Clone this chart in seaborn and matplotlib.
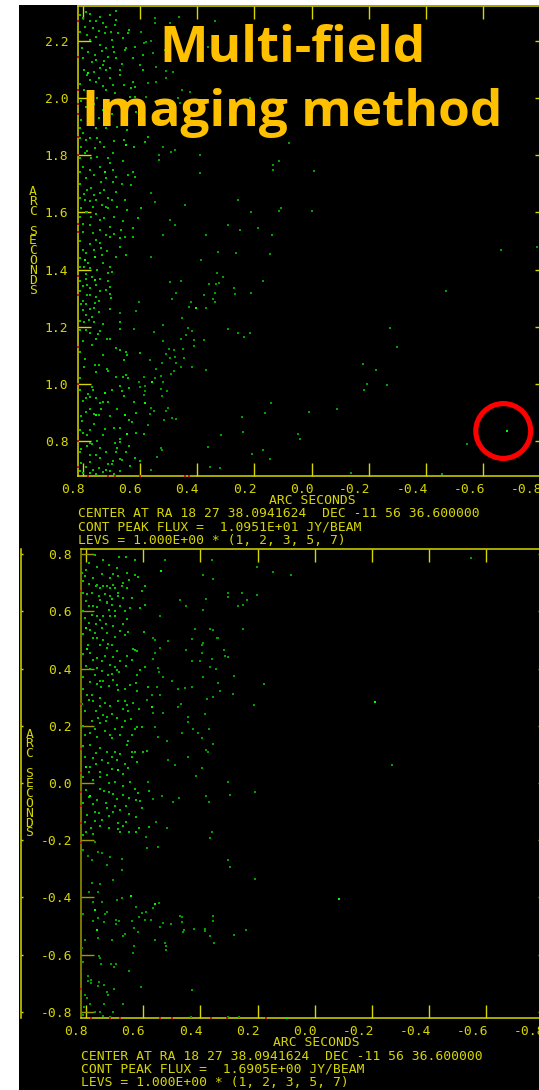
import matplotlib
matplotlib.use('Agg')
import matplotlib.pyplot as plt
import matplotlib.transforms as mtrans
from matplotlib.patches import Circle, Rectangle
import pandas as pd
import seaborn as sns

W, H = 539, 1090
YELLOW = '#d8d800'
OLIVE = '#9c9c00'
TEXT = '#d6d600'
MONO = 'DejaVu Sans Mono'

x_ticks = [0.8, 0.6, 0.4, 0.2, 0.0, -0.2, -0.4, -0.6, -0.8]
x_labels = ['0.8', '0.6', '0.4', '0.2', '0.0', '-0.2', '-0.4', '-0.6', '-0.8']
top_y_ticks = [2.2, 2.0, 1.8, 1.6, 1.4, 1.2, 1.0, 0.8]
top_y_labels = ['2.2', '2.0', '1.8', '1.6', '1.4', '1.2', '1.0', '0.8']
low_y_ticks = [0.8, 0.6, 0.4, 0.2, 0.0, -0.2, -0.4, -0.6, -0.8]
low_y_labels = ['0.8', '0.6', '0.4', '0.2', '0.0', '-0.2', '-0.4', '-0.6', '-0.8']

top_caption = ['CENTER AT RA 18 27 38.0941624  DEC -11 56 36.600000',
               'CONT PEAK FLUX =  1.0951E+01 JY/BEAM',
               'LEVS = 1.000E+00 * (1, 2, 3, 5, 7)']
low_caption = ['CENTER AT RA 18 27 38.0941624  DEC -11 56 36.600000',
               'CONT PEAK FLUX =  1.6905E+00 JY/BEAM',
               'LEVS = 1.000E+00 * (1, 2, 3, 5, 7)']
title_lines = ['Multi-field', 'Imaging method']

# clean components (ra offset, dec offset)
top_band = [
    (.788,2.303),(.686,2.306),(.81,2.29),(.777,2.271),(.686,2.274),(.73,2.262),(.718,2.25),(.689,2.256),(.794,2.25),
    (.786,2.221),(.753,2.215),(.724,2.227),(.701,2.233),(.677,2.227),(.642,2.227),(.639,2.238),(.66,2.209),(.742,2.186),
    (.718,2.174),(.695,2.18),(.648,2.174),(.619,2.18),(.759,2.151),(.782,2.163),(.753,2.133),(.712,2.145),(.683,2.139),
    (.654,2.168),(.625,2.139),(.59,2.151),(.742,2.104),(.718,2.098),(.73,2.116),(.707,2.104),(.672,2.098),(.602,2.116),
    (.59,2.098),(.777,2.063),(.753,2.058),(.73,2.042),(.707,2.069),(.672,2.081),(.625,2.058),(.619,2.04),(.631,2.034),
    (.786,2.081),(.765,2.023),(.689,2.019),(.637,2.005),(.619,2.005),(.806,1.99),(.79,1.97),(.76,1.98),(.73,1.96),
    (.806,1.923),(.812,1.894),(.8,1.877),(.788,1.853),(.806,1.83),(.794,1.807),(.742,1.848),(.75,1.86),(.759,1.824),
    (.622,1.828),(.584,1.848),(.572,1.865),(.695,1.807),(.712,1.789),(.707,1.772),(.771,1.789),(.8,1.76),(.777,1.748),
    (.683,1.725),(.625,1.743),(.619,1.725),(.642,1.731),(.695,1.708),(.736,1.708),(.771,1.684),(.742,1.667),(.633,1.696),
    (.654,1.643),(.712,1.649),(.7,1.643),(.72,1.62),(.753,1.643),(.794,1.643),(.806,1.614),(.771,1.585),(.742,1.573),
    (.712,1.614),(.707,1.55),(.666,1.538),(.672,1.509),(.654,1.515),(.625,1.544),(.608,1.579),(.596,1.614),(.625,1.515),
    (.765,1.527),(.742,1.492),(.718,1.521),(.788,1.457),(.736,1.474),(.782,1.422),(.707,1.41),(.73,1.422),(.683,1.445),
    (.672,1.48),(.648,1.451),(.81,1.5),(.8,1.47),(.775,1.49),(.81,1.44),(.8,1.56),(.79,1.6),(.765,1.62),(.785,1.68),
    (.712,1.389),(.7,1.392),(.788,1.366),(.741,1.366),(.712,1.36),(.8,1.342),(.706,1.339),(.776,1.336),(.741,1.325),
    (.706,1.315),(.8,1.29),(.759,1.284),(.744,1.29),(.702,1.3),(.806,1.278),(.776,1.263),(.706,1.261),(.785,1.31),
    (.79,1.24),(.77,1.235),(.81,1.22),(.795,1.215),(.78,1.225),(.742,1.185),(.746,1.175),(.774,1.179),(.754,1.158),
    (.767,1.135),(.716,1.158),(.704,1.158),(.685,1.125),(.792,1.088),(.759,1.066),(.745,1.066),(.73,1.1),(.754,1.042),
    (.715,1.051),(.711,1.044),(.672,1.216),(.672,1.193),(.73,1.21),(.765,.98),(.782,.963),(.788,.951),(.776,.955),
    (.81,.977),(.742,.934),(.73,.937),(.712,.938),(.776,.911),(.736,.911),(.745,.891),(.681,.911),(.808,.887),(.804,.87),
    (.761,.858),(.707,.887),(.724,.841),(.691,.846),(.672,.844),(.8,.829),(.774,.838),(.689,.794),(.669,.796),(.672,.808),
    (.777,.794),(.786,.782),(.77,.788),(.742,.776),(.806,.773),(.681,.776),(.686,.761),(.777,.751),(.742,.742),(.695,.73),
    (.669,.736),(.662,.733),(.774,.726),(.712,.718),(.697,.718),(.806,.724),(.72,.7),(.672,.695),(.707,.695),(.765,.697),
    (.777,.689),(.8,.687),(.672,.992),(.7,.98),(.64,.984),(.665,.975),(.656,.957),(.683,1.024),(.659,1.025),(.642,1.019),
    (.648,1.031),(.671,1.117),(.65,1.111),(.647,1.101),(.656,1.083),(.6,1.109),(.64,.873),(.627,.867),(.613,.899),
    (.621,.937),(.613,.827),(.587,.826),(.64,.782),(.648,.762),(.619,.742),(.602,.73),(.637,.712),
]
# the crowded strip next to the left frame, second pass
top_band_more = [
    (.8,2.28),(.775,2.295),(.755,2.27),(.74,2.285),(.705,2.29),(.765,2.245),(.745,2.235),(.81,2.23),(.775,2.205),(.7,2.205),
    (.735,2.165),(.77,2.125),(.8,2.14),(.805,2.175),(.665,2.12),(.69,2.16),(.725,2.13),(.795,2.1),(.76,2.09),(.745,2.07),
    (.81,2.05),(.795,2.03),(.72,2.03),(.695,2.045),(.655,2.045),(.75,2.0),(.71,1.995),(.67,1.98),(.64,1.975),(.78,1.945),
    (.745,1.93),(.7,1.945),(.655,1.93),(.615,1.95),(.775,1.905),(.755,1.895),(.72,1.895),(.68,1.9),(.645,1.89),(.81,1.86),
    (.775,1.86),(.725,1.83),(.69,1.85),(.655,1.855),(.81,1.79),(.785,1.815),(.75,1.795),(.74,1.76),(.695,1.75),(.66,1.78),
    (.81,1.74),(.79,1.72),(.76,1.73),(.72,1.72),(.665,1.7),(.81,1.7),(.795,1.665),(.76,1.66),(.725,1.68),(.685,1.67),
    (.81,1.65),(.775,1.64),(.735,1.625),(.68,1.62),(.645,1.61),(.785,1.6),(.755,1.595),(.725,1.58),(.69,1.585),(.66,1.57),
    (.81,1.585),(.775,1.555),(.74,1.54),(.705,1.515),(.69,1.525),(.8,1.53),(.755,1.505),(.735,1.45),(.76,1.47),(.715,1.465),
    (.81,1.41),(.795,1.41),(.775,1.405),(.75,1.4),(.79,1.385),(.77,1.375),(.755,1.345),(.81,1.36),(.785,1.345),(.72,1.33),
    (.81,1.325),(.775,1.31),(.755,1.305),(.79,1.28),(.76,1.265),(.745,1.25),(.8,1.26),(.81,1.19),(.79,1.19),(.76,1.215),
    (.8,1.15),(.81,1.11),(.795,1.06),(.81,1.02),(.77,.99),(.8,.94),(.755,.95),(.79,.9),(.76,.895),(.81,.84),(.785,.82),
    (.73,.82),(.75,.8),(.81,.76),(.755,.75),(.72,.76),(.79,.71),(.745,.705),(.81,.695),(.755,.685),(.73,.69),(.69,.685),
]
top_sparse = [
    (.549,2.279),(.549,2.262),(.497,2.264),(.465,2.285),(.339,2.271),(.596,2.233),(.588,2.194),(.578,2.198),(.561,2.2),
    (.555,2.157),(.514,2.169),(.456,2.151),(.427,2.174),(.362,2.178),(.543,2.11),(.508,2.096),(.485,2.093),(.572,2.054),
    (.543,2.058),(.508,2.069),(.452,2.028),(.427,2.02),(.578,2.005),(.467,1.999),(.462,1.982),(.526,1.982),(.217,1.999),
    (.52,1.83),(.491,1.813),(.479,1.818),(.534,1.801),(.534,1.783),(.392,1.801),(.392,1.737),(.561,1.667),(.549,1.638),
    (.497,1.573),(.479,1.556),(.444,1.626),(.257,1.643),(.211,1.602),(.187,1.544),(.252,1.538),(.292,1.556),(.368,1.521),
    (.52,1.521),(.327,1.463),(.263,1.457),(.386,1.433),(.561,1.445),(.497,1.356),(.456,1.36),(.421,1.286),(.429,1.269),
    (.37,1.267),(.377,1.31),(.339,1.317),(.358,1.348),(.333,1.348),(.324,1.352),(.332,1.387),(.309,1.375),(.273,1.337),
    (.269,1.313),(.211,1.317),(.17,1.36),(.476,1.317),(.488,1.298),(.345,1.296),(.339,1.288),(.669,1.247),(.613,1.255),
    (.605,1.286),(.454,1.229),(.431,1.196),(.418,1.185),(.52,1.206),(.552,1.181),(.62,1.193),(.292,1.191),(.257,1.177),
    (.238,1.165),(.215,1.177),(.456,1.158),(.439,1.171),(.41,1.153),(.375,1.153),(.41,1.132),(.52,1.15),(.5,1.121),
    (.483,1.118),(.45,1.121),(.509,1.103),(.497,1.091),(.477,1.095),(.446,1.091),(.567,1.083),(.522,1.074),(.475,1.072),
    (.482,1.045),(.491,1.033),(.456,1.06),(.418,1.06),(.368,1.048),(.543,1.053),(.586,1.025),(.547,1.021),(.527,1.027),
    (.52,1.006),(.603,1.006),(.602,.99),(.582,.975),(.586,.96),(.526,.983),(.505,.975),(.523,.957),(.582,.992),(.563,.916),
    (.502,.916),(.508,.905),(.553,.905),(.567,.893),(.517,.872),(.488,.881),(.473,.876),(.572,.856),(.316,.82),(.24,.833),
    (.244,.884),(.164,.899),(.526,.776),(.522,.77),(.362,.78),(.207,.756),(.17,.77),(.541,.744),(.563,.697),(.354,.709),
    (.322,.704),(.08,1.843),(.135,1.767),(.115,1.78),(.135,1.749),(-.009,1.745),(.108,1.615),(.115,1.605),(0.0,1.605),
    (.14,1.521),(.145,1.455),(-.662,1.468),(-.788,1.478),(-.47,1.326),(-.275,1.195),(-.298,1.129),(-.18,1.069),(-.226,1.049),
    (-.195,1.0),(-.264,.996),(-.182,.98),(.143,.933),(.01,.901),(-.088,.913),(.049,.824),(.04,.808),(-.544,.79),(.145,.738),
    (-.138,.689),(-.455,.685),
]
top_bright = [
    (.494,2.163),(.782,2.089),(.648,1.836),(.724,1.743),(.759,1.445),(.794,1.433),(.759,1.363),(.403,1.264),(.56,1.007),
    (.724,.969),(.584,.933),(.754,.891),(.654,.891),(.646,.823),(-.684,.835),
]
low_band = [
    (.77,.798),(.74,.778),(.686,.79),(.66,.79),(.63,.78),(.69,.75),(.658,.733),(.63,.725),(.617,.72),(.687,.722),(.716,.716),
    (.763,.693),(.728,.687),(.707,.693),(.675,.687),(.658,.68),(.594,.687),(.605,.67),(.81,.664),(.798,.66),(.753,.652),
    (.71,.643),(.687,.664),(.728,.629),(.64,.646),(.774,.617),(.68,.617),(.646,.613),(.611,.611),(.594,.623),(.803,.722),
    (.815,.733),(.809,.704),(.765,.687),(.751,.681),(.739,.689),(.716,.681),(.699,.681),(.687,.652),(.751,.64),(.728,.634),
    (.71,.623),(.788,.617),(.78,.588),(.763,.582),(.751,.57),(.739,.582),(.716,.582),(.699,.582),(.658,.574),(.803,.576),
    (.786,.535),(.769,.524),(.745,.541),(.728,.524),(.68,.532),(.653,.527),(.663,.516),(.597,.527),(.774,.506),(.792,.483),
    (.751,.483),(.722,.485),(.71,.483),(.728,.471),(.69,.462),(.629,.465),(.62,.462),(.637,.469),(.658,.442),(.64,.43),
    (.763,.436),(.774,.43),(.745,.425),(.716,.413),(.693,.396),(.699,.407),(.611,.396),(.594,.404),(.763,.401),(.769,.378),
    (.722,.378),(.71,.38),(.683,.387),(.62,.378),(.786,.352),(.751,.355),(.739,.355),(.704,.36),(.748,.337),(.693,.343),
    (.687,.326),(.646,.341),(.625,.349),(.623,.32),(.582,.337),(.798,.308),(.78,.308),(.815,.276),(.774,.285),(.751,.297),
    (.751,.268),(.687,.285),(.664,.285),(.658,.273),(.634,.279),(.614,.258),(.652,.25),(.739,.238),(.728,.232),(.757,.227),
    (.69,.227),(.644,.224),(.78,.215),(.751,.209),(.73,.215),(.675,.197),(.623,.197),(.605,.197),(.803,.168),(.786,.174),
    (.716,.168),(.71,.157),(.681,.168),(.64,.168),(.629,.189),(.652,.145),(.658,.133),(.786,.133),(.751,.122),(.728,.11),
    (.699,.11),(.64,.11),(.629,.11),(.6,.108),(.588,.112),(.64,.092),(.623,.075),(.774,.087),(.745,.081),(.722,.069),
    (.693,.081),(.664,.066),(.786,.057),(.751,.04),(.728,.028),(.652,.052),(.699,.005),(.751,.022),(.646,.003),(.8,-.024),
    (.751,-.021),(.736,-.028),(.718,-.03),(.692,-.056),(.669,-.042),(.651,-.051),(.628,-.021),(.617,-.036),(.611,-.063),
    (.58,-.028),(.625,-.06),(.73,-.071),(.698,-.079),(.774,-.075),(.728,-.086),(.681,-.094),(.605,-.089),(.753,-.106),
    (.795,-.112),(.707,-.1),(.744,-.129),(.767,-.133),(.803,-.137),(.66,-.135),(.626,-.12),(.688,-.141),(.67,-.15),
    (.784,-.156),(.752,-.149),(.72,-.156),(.615,-.156),(.581,-.152),(.688,-.161),(.682,-.17),(.651,-.17),(.624,-.17),
    (.801,-.17),(.774,-.178),(.81,-.18),
]
low_band_more = [
    (.79,.77),(.76,.755),(.72,.76),(.8,.745),(.745,.73),(.775,.715),(.705,.73),(.67,.7),(.79,.695),(.65,.71),(.78,.665),
    (.735,.66),(.715,.655),(.67,.645),(.8,.635),(.76,.615),(.72,.605),(.7,.6),(.665,.6),(.81,.6),(.79,.56),(.765,.555),
    (.73,.555),(.705,.55),(.67,.555),(.81,.52),(.76,.505),(.74,.5),(.7,.51),(.81,.45),(.785,.455),(.735,.445),(.705,.44),
    (.68,.425),(.66,.41),(.8,.41),(.785,.4),(.745,.39),(.81,.37),(.76,.345),(.72,.34),(.665,.33),(.81,.33),(.79,.29),
    (.735,.28),(.715,.27),(.67,.26),(.805,.25),(.765,.25),(.71,.24),(.665,.215),(.81,.2),(.77,.19),(.735,.18),(.7,.19),
    (.76,.16),(.81,.13),(.765,.105),(.71,.09),(.68,.1),(.805,.09),(.79,.04),(.765,.065),(.71,.05),(.67,.03),(.81,.02),
    (.775,.01),(.72,.0),(.67,-.01),(.79,-.05),(.76,-.06),(.705,-.04),(.66,-.08),(.81,-.07),(.77,-.1),(.72,-.115),(.65,-.11),
]
low_sparse = [
    (.524,.778),(.47,.64),(.45,.617),(.392,.728),(.357,.714),(.38,.644),(.392,.605),(.302,.664),(.302,.65),(.256,.664),
    (.238,.64),(.267,.62),(.25,.623),(.203,.753),(.203,.658),(.36,.78),(.541,.582),(.419,.539),(.367,.538),(.357,.533),
    (.251,.539),(.343,.507),(.337,.507),(.39,.489),(.396,.483),(.43,.503),(.45,.465),(.396,.454),(.317,.465),(.314,.444),
    (.302,.44),(.36,.434),(.401,.425),(.43,.425),(.367,.407),(.344,.399),(.39,.369),(.337,.349),(.283,.375),(.176,.347),
    (.331,.323),(.287,.312),(.43,.337),(.454,.331),(.477,.329),(.5,.355),(.378,.294),(.355,.3),(.213,.274),(.468,.276),
    (.477,.267),(.383,.242),(.442,.232),(.445,.212),(.427,.19),(.369,.188),(.466,.174),(.41,.176),(.396,.157),(.357,.137),
    (.38,.116),(.375,.107),(.445,.09),(.396,.052),(.415,.025),(.489,.063),(.302,.002),(.512,.08),(.567,.506),(.557,.5),
    (.514,.495),(.541,.471),(.559,.454),(.567,.434),(.547,.401),(.544,.387),(.531,.372),(.553,.337),(.541,.308),(.57,.306),
    (.588,.291),(.53,.244),(.565,.244),(.559,.197),(.547,.159),(.518,.145),(.582,.003),(.209,-.03),(.296,-.042),(.38,-.045),
    (.369,-.065),(.475,-.054),(.495,-.065),(.533,-.045),(.567,-.057),(.555,-.135),(.36,-.17),(.365,-.193),(.518,-.158),
    (.547,-.222),(.588,-.226),(.59,-.188),(.302,-.269),(.295,-.292),(.209,-.336),(.675,-.304),(.675,-.266),(.716,-.257),
    (.728,-.287),(.704,-.339),(.769,-.205),(.757,-.24),(.81,-.234),(.794,-.255),(.778,-.269),(.744,-.246),(.675,-.401),
    (.693,-.409),(.545,-.42),(.567,-.436),(.626,-.432),(.603,-.453),(.591,-.451),(.614,-.467),(.638,-.482),(.595,-.48),
    (.573,-.479),(.471,-.464),(.463,-.467),(.463,-.486),(.357,-.464),(.357,-.482),(.532,-.49),(.541,-.502),(.502,-.494),
    (.632,-.508),(.695,-.479),(.683,-.482),(.695,-.493),(.664,-.526),(.67,-.534),(.619,-.522),(.456,-.514),(.462,-.522),
    (.424,-.51),(.385,-.51),(.383,-.517),(.365,-.534),(.354,-.56),(.283,-.53),(.24,-.514),(.557,-.549),(.524,-.558),
    (.519,-.569),(.521,-.584),(.632,-.569),(.634,-.595),(.743,-.417),(.728,-.45),(.734,-.459),(.777,-.417),(.788,-.38),
    (.759,-.38),(.778,-.351),(.752,-.354),(.81,-.456),(.759,-.47),(.774,-.481),(.736,-.486),(.759,-.541),(.803,-.549),
    (.708,-.548),(.814,-.578),(.755,-.605),(.75,-.611),(.746,-.634),(.713,-.634),(.696,-.634),(.701,-.642),(.65,-.657),
    (.81,-.625),(.792,-.674),(.783,-.689),(.792,-.691),(.781,-.698),(.755,-.695),(.757,-.71),(.736,-.706),(.701,-.72),
    (.609,-.712),(.728,-.73),(.722,-.741),(.803,-.741),(.795,-.75),(.43,-.724),(.786,-.772),(.736,-.772),(.67,-.772),
    (.807,-.782),(.769,-.799),(.704,-.799),(.752,-.8),(.74,-.815),(.81,-.81),(.717,-.818),(.434,-.818),(.264,-.818),
    (.302,-.818),(.146,.737),(.083,.728),(-.546,.786),(-.269,.062),
]
low_bright = [
    (.538,.742),(.8,.541),(.795,.468),(.57,.264),(.8,.057),(.687,.046),(.786,-.044),(.644,-.395),(.559,-.422),(.769,-.444),
    (.763,-.514),(.1,-.82),(-.212,.284),(-.086,-.406),
]

# contour pieces that sit right on the frame, shown red
top_red_dec = [2.27, 2.145, 2.03, 1.98, 1.945, 1.865, 1.80, 1.56, 1.53, 1.378, 1.31, 1.13, 1.0, 0.8, 0.71]
top_red_ra = [.782, .712, .689, .60, .444, .43]
low_red_dec = [.67, .276, .12, .035, -.03, -.08, -.14, -.21, -.72]
low_red_ra = [.783, .716, .681, .541, .499, .363, .307, .17]

ring_ra, ring_dec, ring_radius = -.671, .835, .096

sns.set_theme(style='dark')
plt.rcParams['font.family'] = [MONO, 'DejaVu Sans']


def make_axes(fig, left, right, top, bottom, xlim, ylim):
    ax = fig.add_axes([left / W, 1 - bottom / H, (right - left) / W, (bottom - top) / H])
    ax.set_xlim(*xlim)
    ax.set_ylim(*ylim)
    ax.set_facecolor('black')
    ax.grid(False)
    return ax


def draw_points(ax, pts, color, size):
    df = pd.DataFrame(pts, columns=['ra', 'dec'])
    sns.scatterplot(data=df, x='ra', y='dec', color=color, s=size, marker='s', linewidth=0, legend=False, ax=ax, zorder=3)


def dress(ax, yticks, ylabels, left_color, x_shift):
    ax.set_xticks(x_ticks, labels=x_labels)
    ax.set_yticks(yticks, labels=ylabels)
    ax.tick_params(axis='both', direction='in', length=9.4, width=1, color=YELLOW,
                   top=True, right=True, bottom=True, left=True, labelcolor=TEXT, labelsize=9.35)
    ax.tick_params(axis='x', pad=5)
    ax.tick_params(axis='y', pad=6.5, color=left_color)
    for side in ax.spines:
        ax.spines[side].set_color(YELLOW)
        ax.spines[side].set_linewidth(1.1)
    ax.spines['left'].set_color(left_color)
    # labels end just past their tick
    off = mtrans.ScaledTranslation(x_shift / 100, 0, ax.figure.dpi_scale_trans)
    for lab in ax.get_xticklabels():
        lab.set_ha('right')
        lab.set_transform(lab.get_transform() + off)
    for lab in ax.get_xticklabels() + ax.get_yticklabels():
        lab.set_fontfamily(MONO)


def axis_titles(ax, x_y, y_x):
    ax.set_xlabel('ARC SECONDS', color=TEXT, fontsize=9.35, va='center', family=MONO)
    ax.xaxis.set_label_coords(0.5, x_y)
    ax.set_ylabel('\n'.join('ARC SECONDS'), color=TEXT, fontsize=9.35, rotation=0, ha='center', va='center',
                  linespacing=0.69, family=MONO)
    ax.yaxis.set_label_coords(y_x, 0.5)


def red_marks(ax, decs, ras):
    left, bottom = ax.get_xlim()[0], ax.get_ylim()[0]
    df = pd.DataFrame({'ra': [left] * len(decs) + ras, 'dec': decs + [bottom] * len(ras)})
    sns.scatterplot(data=df, x='ra', y='dec', color='#c81010', s=2, marker='s', linewidth=0, legend=False, ax=ax,
                    zorder=4, clip_on=False)
    ax.set_xlabel('')
    ax.set_ylabel('')


fig = plt.figure(figsize=(W / 100, H / 100), dpi=100, facecolor='white')
fig.add_artist(Rectangle((19 / W, 0), 1, 1 - 5 / H, transform=fig.transFigure, facecolor='black', edgecolor='none',
                         zorder=-5))

ax_top = make_axes(fig, 77.5, 548, 6, 476, (.819, -.8276), (.6775, 2.3225))
draw_points(ax_top, top_sparse, '#00a000', 1.5)
draw_points(ax_top, top_band + top_band_more, '#00c400', 2.2)
draw_points(ax_top, top_bright, '#00ff00', 4.5)
red_marks(ax_top, top_red_dec, top_red_ra)
ax_top.add_patch(Circle((ring_ra, ring_dec), ring_radius, fill=False, edgecolor='#ff0000', linewidth=3.7, zorder=6))
dress(ax_top, top_y_ticks, top_y_labels, YELLOW, 2)
axis_titles(ax_top, -24.5 / 470, -44.5 / 470.5)

ax_low = make_axes(fig, 81, 551, 549, 1018, (.8175, -.826), (-.821, .8175))
draw_points(ax_low, low_sparse, '#00a000', 1.5)
draw_points(ax_low, low_band + low_band_more, '#00c400', 2.2)
draw_points(ax_low, low_bright, '#00ff00', 4.5)
red_marks(ax_low, low_red_dec, low_red_ra)
dress(ax_low, low_y_ticks, low_y_labels, OLIVE, 2)
axis_titles(ax_low, -25 / 469, -51.5 / 470)

# right edge of the neighbouring panel, cropped at the left of the lower plot
ax_edge = make_axes(fig, 10, 20.5, 549, 1018, (0, 1), (-.821, .8175))
ax_edge.patch.set_visible(False)
for side in ['left', 'top', 'bottom']:
    ax_edge.spines[side].set_visible(False)
ax_edge.spines['right'].set_color(YELLOW)
ax_edge.spines['right'].set_linewidth(1.1)
ax_edge.set_xticks([])
ax_edge.yaxis.tick_right()
ax_edge.set_yticks(low_y_ticks, labels=[])
ax_edge.tick_params(axis='y', direction='out', length=1.2, width=1, color=YELLOW)

for i, line in enumerate(top_caption):
    fig.text(77.5 / W, 1 - (513.5 + 13.5 * i) / H, line, color=TEXT, fontsize=9.35, va='center', family=MONO)
for i, line in enumerate(low_caption):
    fig.text(81 / W, 1 - (1056 + 13.5 * i) / H, line, color=TEXT, fontsize=9.35, va='center', family=MONO)

for line, y in zip(title_lines, [49, 113]):
    fig.text(292 / W, 1 - y / H, line, color='#ffc000', fontsize=37, fontweight='bold', ha='center', va='center',
             family=['Open Sans', 'Liberation Sans'], zorder=10)

fig.savefig('out.png', dpi=100, facecolor='white')
